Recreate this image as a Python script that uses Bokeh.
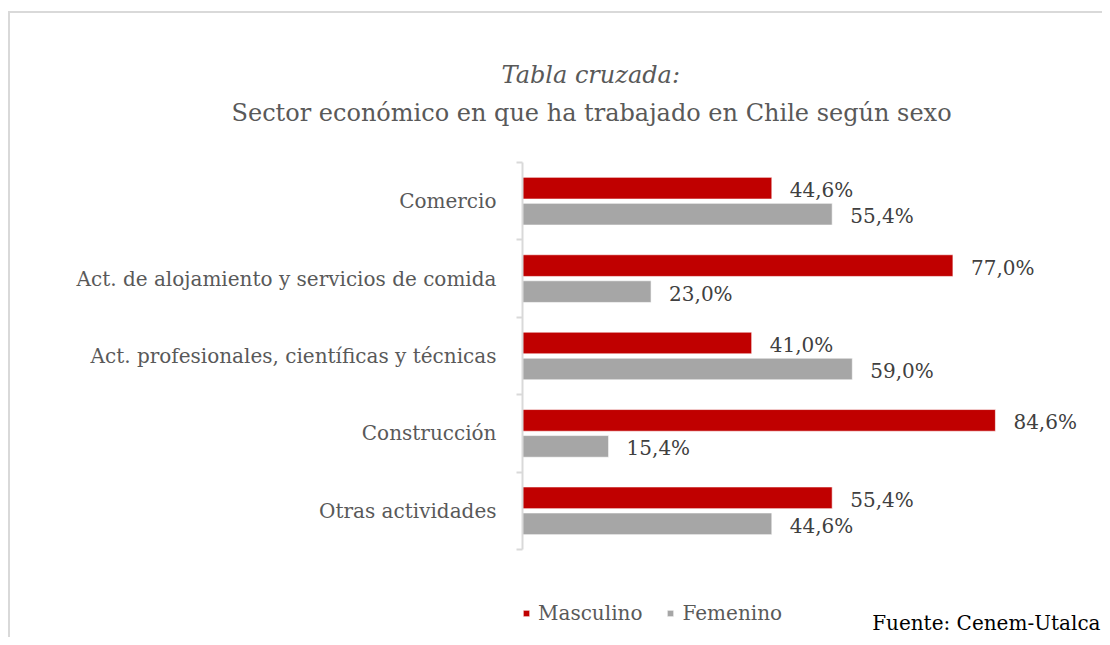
from bokeh.plotting import figure
from bokeh.models import (Range1d, FixedTicker, Legend, LegendItem, Title, Label,
                          ColumnDataSource)
from bokeh.transform import dodge
from bokeh.core.properties import value
from bokeh.embed import file_html
from bokeh.resources import INLINE

categories = ["Comercio",
              "Act. de alojamiento y servicios de comida",
              "Act. profesionales, científicas y técnicas",
              "Construcción",
              "Otras actividades"]
masculino = [44.6, 77.0, 41.0, 84.6, 55.4]
femenino = [55.4, 23.0, 59.0, 15.4, 44.6]
series_names = ["Masculino", "Femenino"]
title_line1 = "Tabla cruzada:"
title_line2 = "Sector económico en que ha trabajado en Chile según sexo"
source_note = "Fuente: Cenem-Utalca"

FONT = "DejaVu Serif"
RED = "#C00000"
GRAY = "#A6A6A6"
BORDER = "#D9D9D9"

# layout (pixels)
W, H = 1102, 637
AXIS_X = 522          # where value 0 (the category axis) sits
X100 = 1081           # where 100 % would sit
TOP = 162             # top of the category band
BAND_BOTTOM = 549     # bottom of the category band
n = len(categories)
px_x = (X100 - AXIS_X) / 100.0
px_y = (BAND_BOTTOM - TOP) / n

ypos = [n - i - 0.5 for i in range(n)]

def fmt(v):
    return f"{v:.1f}%".replace(".", ",")

src = ColumnDataSource(dict(
    y=ypos, m=masculino, f=femenino,
    ml=[fmt(v) for v in masculino], fl=[fmt(v) for v in femenino],
))

p = figure(width=W, height=H, output_backend="svg", toolbar_location=None,
           x_range=Range1d(0, 100 + (W - X100) / px_x),
           y_range=Range1d(-(H - BAND_BOTTOM) / px_y, n),
           min_border_left=AXIS_X, min_border_right=0,
           min_border_top=TOP, min_border_bottom=0)
p.title.visible = False
p.outline_line_color = None
p.background_fill_color = "white"
p.border_fill_alpha = 0
p.styles = {
    "background": (f"linear-gradient({BORDER},{BORDER}) 8px 11px / 2px 100% no-repeat, "
                   f"linear-gradient({BORDER},{BORDER}) 8px 11px / 100% 2px no-repeat, white"),
}
p.xgrid.visible = False
p.ygrid.visible = False
p.xaxis.visible = False

yax = p.yaxis[0]
yax.bounds = (0, n)
yax.ticker = FixedTicker(ticks=ypos, minor_ticks=[float(i) for i in range(n + 1)])
yax.major_label_overrides = {y: c for y, c in zip(ypos, categories)}
yax.major_tick_out = 0
yax.major_tick_in = 0
yax.minor_tick_out = 6
yax.minor_tick_in = 0
yax.minor_tick_line_color = BORDER
yax.minor_tick_line_width = 2
yax.axis_line_color = BORDER
yax.axis_line_width = 2
yax.major_label_standoff = 20
yax.major_label_text_font = FONT
yax.major_label_text_font_size = "20px"
yax.major_label_text_color = "#595959"

off = 0.168
bh = 0.28
r_m = p.hbar(y=dodge("y", off, range=p.y_range), left=0, right="m", height=bh,
             source=src, fill_color=RED, line_color="white", line_width=0.6)
r_f = p.hbar(y=dodge("y", -off, range=p.y_range), left=0, right="f", height=bh,
             source=src, fill_color=GRAY, line_color="white", line_width=0.6)

for col, lab, d in (("m", "ml", off), ("f", "fl", -off)):
    p.text(x=col, y=dodge("y", d, range=p.y_range), text=lab, source=src,
           x_offset=18, y_offset=2, text_baseline="middle", text_align="left",
           text_font=value(FONT), text_font_size="20px", text_color="#404040")

# titles (above the frame); a blank spacer keeps them clear of the bars
p.add_layout(Title(text=" ", standoff=23, text_font_size="10px",
                   text_color="white"), "above")
p.add_layout(Title(text=title_line2, align="left", offset=-291, standoff=0,
                   text_font=FONT, text_font_style="normal", text_font_size="24px",
                   text_color="#595959"), "above")
p.add_layout(Title(text=title_line1, align="left", offset=-21, standoff=16,
                   text_font=FONT, text_font_style="italic", text_font_size="24px",
                   text_color="#595959"), "above")

legend = Legend(items=[LegendItem(label=series_names[0], renderers=[r_m]),
                       LegendItem(label=series_names[1], renderers=[r_f])],
                orientation="horizontal", location=(0, 12),
                glyph_width=8, glyph_height=8, label_standoff=8, spacing=24,
                padding=0, margin=0, border_line_color=None,
                background_fill_alpha=0,
                label_text_font=FONT, label_text_font_size="20px",
                label_text_color="#595959")
p.add_layout(legend, "center")

p.add_layout(Label(x=100 + (1100 - X100) / px_x, y=-(622 - BAND_BOTTOM) / px_y,
                   text=source_note, text_align="right", text_baseline="alphabetic",
                   text_font=FONT, text_font_size="20px", text_color="#000000"))

open("out.html", "w").write(file_html(p, INLINE))
